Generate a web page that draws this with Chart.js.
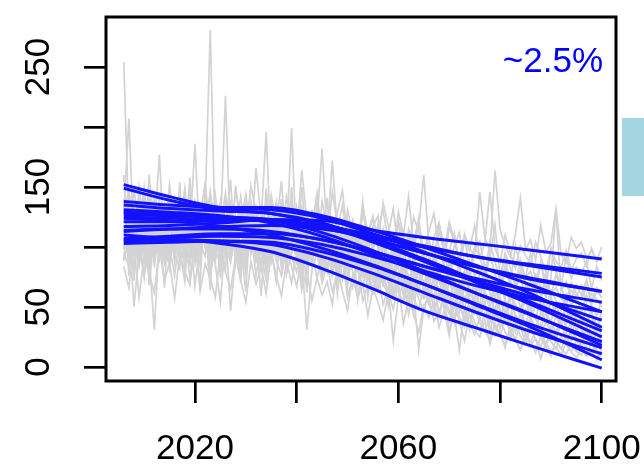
<!DOCTYPE html>
<html>
<head>
<meta charset="utf-8">
<script src="https://cdn.jsdelivr.net/npm/chart.js@4/dist/chart.umd.min.js"></script>
<style>
  html, body { margin:0; padding:0; background:#fff; }
  #wrap { width:644px; height:469px; }
</style>
</head>
<body>
<div id="wrap"><canvas id="sim" width="644" height="469"></canvas></div>
<script>
// years for the annual (gray) simulations
const years = [2006,2007,2008,2009,2010,2011,2012,2013,2014,2015,
  2016,2017,2018,2019,2020,2021,2022,2023,2024,2025,
  2026,2027,2028,2029,2030,2031,2032,2033,2034,2035,
  2036,2037,2038,2039,2040,2041,2042,2043,2044,2045,
  2046,2047,2048,2049,2050,2051,2052,2053,2054,2055,
  2056,2057,2058,2059,2060,2061,2062,2063,2064,2065,
  2066,2067,2068,2069,2070,2071,2072,2073,2074,2075,
  2076,2077,2078,2079,2080,2081,2082,2083,2084,2085,
  2086,2087,2088,2089,2090,2091,2092,2093,2094,2095,
  2096,2097,2098,2099,2100];

// gray: noisy simulated runs
const g01 = [254,118,96,132,104,141,88,115,127,99, 122,108,146,93,117,131,102,125,110,138, 97,120,113,142,105,128,91,119,134,108, 116,101,129,95,112,124,87,118,103,99, 121,92,106,88,114,97,83,109,91,78, 99,86,72,94,81,68,89,75,63,82, 70,58,77,64,53,71,59,48,66,55, 45,61,50,41,57,46,38,52,43,35, 49,40,32,45,37,29,42,34,27,39, 31,25,36,28,22];
const g02 = [128,207,101,88,119,136,95,124,108,147, 113,99,131,120,86,109,140,117,94,126, 105,133,98,121,144,110,92,127,115,103, 138,119,96,124,109,131,100,117,145,106, 123,98,114,135,102,119,93,128,111,97, 116,131,104,92,121,108,99,125,113,94, 107,88,119,102,96,112,85,104,97,118, 91,103,146,99,87,110,95,82,101,93, 86,104,92,79,98,88,83,97,81,90, 95,84,99,88,92];
const g03 = [112,96,131,84,107,123,92,139,101,86, 118,105,93,127,110,98,135,281,104,91, 122,99,113,87,129,106,95,118,83,110, 97,124,88,106,115,81,102,93,120,85, 98,76,104,89,71,93,82,67,88,74, 63,81,70,58,76,61,52,69,57,46, 64,51,42,58,47,38,53,41,34,49, 37,29,44,33,26,39,30,23,35,27, 20,31,24,17,28,21,15,25,18,13, 22,16,12,19,14];
const g04 = [104,121,97,113,88,126,108,95,131,116, 99,124,111,87,136,105,119,93,128,114, 226,101,118,90,124,107,133,98,115,102, 127,94,112,108,89,121,103,96,117,86, 109,99,81,113,95,104,87,76,98,90, 82,101,88,74,95,84,69,91,78,86, 72,93,79,66,85,71,62,80,68,75, 63,82,69,58,74,65,55,71,60,67, 53,70,59,49,64,56,47,61,52,58, 45,60,51,43,55];
const g05 = [96,83,118,102,74,125,91,108,87,119, 101,129,94,112,186,97,115,89,123,106, 92,117,101,126,85,110,98,121,196,94, 113,87,105,199,96,118,84,107,93,112, 79,101,90,73,97,85,106,80,92,71, 88,76,64,91,72,83,60,79,67,58, 84,69,55,73,62,50,71,57,65,52, 45,63,54,70,48,41,59,50,44,56, 39,52,46,36,55,43,38,49,33,45, 40,35,47,31,42];
const g06 = [118,92,106,130,99,84,113,177,95,121, 108,90,127,103,116,94,132,111,88,120, 104,135,97,114,92,125,107,119,86,101, 130,112,95,108,123,90,117,104,128,99, 112,96,121,107,93,118,101,89,110,124, 97,115,88,104,120,93,109,99,117,160, 102,90,113,96,121,105,88,111,99,93, 146,108,97,164,115,101,92,110,141,98, 106,89,118,96,103,132,94,87,108,99, 104,91,97,88,100];
const g07 = [98,112,85,104,79,93,31,108,88,117, 95,82,110,74,101,91,120,79,97,86, 113,47,92,103,78,115,87,96,72,105, 89,76,99,84,67,92,31,81,95,70, 86,63,78,91,58,74,82,55,69,61, 77,52,66,22,58,71,44,63,14,50, 59,38,47,55,31,43,14,49,36,27, 41,30,23,37,26,19,33,22,15,28, 18,24,7,20,13,17,10,21,12,8, 15,9,13,6,11];
const g08 = [135,109,147,121,98,138,115,129,104,152, 118,131,99,143,124,110,137,96,128,117, 145,103,126,114,139,108,121,133,97,125, 112,136,119,101,131,115,127,98,120,182, 109,172,114,96,123,105,117,92,111,100, 119,88,106,97,85,110,93,81,102,89, 95,78,99,84,73,92,80,70,88,76, 83,69,94,77,66,85,72,64,80,70, 61,77,67,58,74,132,63,71,57,68, 60,73,55,66,58];
const g09 = [102,116,50,97,124,88,111,93,106,82, 119,98,87,113,67,104,92,126,85,54, 108,96,117,81,99,112,76,103,94,88, 116,83,101,92,79,107,88,97,74,93, 82,104,71,89,78,66,93,75,84,62, 79,68,87,58,72,64,53,76,61,57, 69,48,62,55,44,60,51,39,57,46, 41,53,37,48,32,44,39,29,46,35, 40,31,27,38,33,24,36,28,22,31, 26,34,21,29,24];
const g10 = [90,104,79,115,96,83,107,122,88,101, 76,112,93,85,118,99,108,81,114,95, 103,87,121,97,84,110,92,105,80,116, 98,125,89,107,94,150,102,86,111,97, 104,90,81,99,112,87,95,78,101,89, 84,96,77,90,102,73,88,81,70,94, 79,87,72,66,91,76,84,68,80,63, 77,85,67,73,60,82,69,64,75,58, 71,62,55,78,60,66,57,52,64,59, 68,54,61,57,50];
const g11 = [140,95,128,113,150,102,137,121,98,133, 110,141,126,104,132,118,100,144,122,107, 135,115,98,127,141,109,124,103,119,136, 105,128,114,97,133,109,121,100,116,93, 126,106,98,118,88,110,95,86,104,80, 97,89,76,101,83,92,71,87,79,66, 91,74,84,63,79,70,57,75,64,54, 71,60,49,66,56,44,62,52,47,58, 49,41,55,45,38,51,42,36,47,40, 37,44,34,41,32];
const g12 = [120,137,99,110,129,92,117,103,134,96, 114,125,89,107,119,98,130,112,95,109, 121,90,106,114,97,126,101,88,112,104, 93,111,85,104,96,80,109,91,99,77, 95,86,103,73,89,80,68,92,76,64, 82,70,60,77,63,54,72,57,48,66, 52,44,61,49,38,55,42,33,50,37, 30,45,34,26,41,29,22,37,26,19, 32,23,17,28,21,15,26,18,13,22, 16,11,20,14,10];
const g13 = [88,145,72,126,98,160,83,117,66,139, 92,154,78,121,105,69,148,96,130,74, 118,156,86,102,63,137,111,80,149,97, 71,128,104,150,85,117,62,131,96,108, 141,79,115,92,66,124,88,103,58,97, 113,70,90,61,104,82,55,95,68,86, 60,99,73,52,88,66,47,79,58,71, 50,84,62,45,73,55,40,68,49,60, 43,65,51,37,58,46,34,55,41,50, 36,52,42,31,47];
const g14 = [160,76,123,95,141,68,112,90,134,79, 128,97,71,143,106,84,120,64,137,101, 82,126,109,70,131,94,115,59,121,88, 104,140,77,96,122,67,110,85,129,74, 99,118,61,93,82,107,56,88,72,95, 64,85,51,78,97,59,74,45,83,62, 53,76,42,66,57,37,70,48,31,61, 40,55,28,49,36,58,25,44,33,21, 42,29,36,18,33,26,39,20,30,24, 17,33,22,27,19];
const g15 = [110,131,96,150,118,87,142,105,125,93, 139,114,101,158,90,127,116,146,99,133, 120,94,151,112,137,101,166,124,89,143, 118,155,97,136,109,164,122,90,139,115, 104,146,120,88,131,111,99,138,94,117, 126,86,110,132,97,79,115,103,124,91, 84,108,120,95,77,101,112,86,72,98, 105,82,90,118,76,93,69,101,84,74, 95,71,88,63,99,80,67,92,74,83, 78,88,65,84,72];
const g16 = [84,66,101,58,93,77,62,99,71,88, 57,94,80,68,107,63,86,74,58,97, 79,65,92,72,54,88,69,83,61,95, 76,59,88,70,97,64,81,55,74,60, 71,52,84,63,47,76,58,69,43,66, 54,39,62,48,70,36,57,44,29,51, 41,55,33,47,26,52,38,22,44,31, 25,39,19,35,28,16,32,23,14,27, 21,12,26,17,9,23,15,11,19,13, 10,17,12,8,14];
const g17 = [99,123,108,86,131,114,95,138,102,120, 87,126,111,98,134,92,119,106,143,100, 112,129,93,118,104,136,97,125,110,88, 127,105,142,116,93,132,109,124,101,138, 115,94,129,147,108,121,99,134,112,126, 103,137,118,96,129,110,142,101,120,94, 113,128,99,86,117,104,91,109,81,100, 92,76,104,88,72,95,83,67,89,74, 80,64,86,71,59,77,66,55,70,61, 56,68,52,63,58];
const g18 = [127,148,115,139,104,156,122,134,110,145, 131,117,149,106,138,125,153,112,141,119, 136,108,147,124,113,151,129,102,140,118, 109,137,121,99,130,114,95,126,106,92, 119,101,87,112,96,83,105,90,78,99, 85,73,94,80,67,88,76,62,83,70, 58,77,64,53,71,60,49,66,55,45, 62,51,42,57,47,38,53,44,35,48, 40,33,45,37,30,42,34,28,38,31, 35,29,26,33,27];
const grayRuns = [g01,g02,g03,g04,g05,g06,g07,g08,g09,g10,g11,g12,g13,g14,g15,g16,g17,g18];

// blue: smooth fitted trajectories, read at these years
const blueYears = [2006,2015,2025,2035,2045,2055,2065,2075,2085,2100];
const b01 = [152,142,133,131,124,111,96,80,63,33];
const b02 = [149,139,131,128,119,104,88,71,54,25];
const b03 = [138,135,133,133,126,114,100,85,70,46];
const b04 = [135,132,130,128,120,106,90,73,56,30];
const b05 = [129,127,125,122,112,97,80,62,45,21];
const b06 = [125,124,123,122,116,106,95,84,75,63];
const b07 = [121,121,122,122,118,110,101,92,85,75];
const b08 = [117,118,120,123,122,114,108,103,98,90];
const b09 = [113,115,117,118,115,108,100,92,86,78];
const b10 = [107,109,111,111,106,96,84,74,65,54];
const b11 = [103,104,105,104,96,84,69,53,37,16];
const b12 = [124,122,117,110,99,85,69,52,35,6];
const b13 = [110,107,103,96,82,65,47,33,19,-1];
const b14 = [105,106,105,102,92,78,62,46,31,11];
const b15 = [131,129,126,120,109,94,78,62,46,18];
const b16 = [114,115,115,113,106,96,84,72,60,39];
const b17 = [106,108,109,108,102,92,80,68,58,46];
const b18 = [127,126,125,123,117,107,95,84,74,63];
const blueRuns = [b01,b02,b03,b04,b05,b06,b07,b08,b09,b10,b11,b12,b13,b14,b15,b16,b17,b18];

const xTicks = [2020,2040,2060,2080,2100];
const xLabels = ['2020','','2060','','2100'];
const yTicks = [0,50,100,150,200,250];
const yLabels = ['0','50','','150','','250'];
const note = '~2.5%';

const FONT = '"Liberation Sans", Arial, Helvetica, sans-serif';

const datasets = [];
blueRuns.forEach(r => datasets.push({
  data: blueYears.map((x, i) => ({x, y: r[i]})),
  borderColor:'#1212ff', borderWidth:3, pointRadius:0,
  cubicInterpolationMode:'monotone', fill:false
}));
grayRuns.forEach(r => datasets.push({
  data: r, borderColor:'#d3d3d3', borderWidth:1.7, pointRadius:0, tension:0, fill:false
}));

const frame = {
  id:'frame',
  afterDraw(chart){
    const {ctx, chartArea:a} = chart;
    ctx.save();
    ctx.strokeStyle = '#000'; ctx.lineWidth = 3;
    ctx.strokeRect(a.left, a.top, a.right - a.left, a.bottom - a.top);
    ctx.fillStyle = '#0000ff';
    ctx.font = '35px ' + FONT;
    ctx.textAlign = 'right'; ctx.textBaseline = 'alphabetic';
    ctx.fillText(note, a.right - 13, a.top + 55);
    // edge of the neighbouring panel
    ctx.fillStyle = '#a4d6e2';
    ctx.fillRect(622, 118, 22, 78);
    ctx.restore();
  }
};

new Chart(document.getElementById('sim'), {
  type:'line',
  data:{ labels: years, datasets },
  options:{
    responsive:false, animation:false, devicePixelRatio:1,
    layout:{ padding:{ top:17, right:28, left:0, bottom:0 } },
    plugins:{ legend:{display:false}, tooltip:{enabled:false} },
    scales:{
      x:{
        type:'linear', min:2002.5, max:2102.8,
        afterBuildTicks: s => { s.ticks = xTicks.map(v => ({value:v})); },
        afterFit: s => { s.height = 88; s.paddingLeft = 0; s.paddingRight = 0; },
        border:{ display:false },
        grid:{ drawOnChartArea:false, drawTicks:true, tickLength:22, tickColor:'#000', lineWidth:2.7 },
        ticks:{ autoSkip:false, maxRotation:0, minRotation:0, padding:25, color:'#000',
          font:{ family:FONT, size:35 },
          callback: v => xLabels[xTicks.indexOf(v)] ?? '' }
      },
      y:{
        type:'linear', min:-11.7, max:291.7,
        afterBuildTicks: s => { s.ticks = yTicks.map(v => ({value:v})); },
        afterFit: s => { s.width = 106; s.paddingTop = 0; s.paddingBottom = 0; },
        border:{ display:false },
        grid:{ drawOnChartArea:false, drawTicks:true, tickLength:22, tickColor:'#000', lineWidth:2.7 },
        ticks:{ autoSkip:false, minRotation:90, maxRotation:90, crossAlign:'center', padding:15, color:'#000',
          font:{ family:FONT, size:35 },
          callback: v => yLabels[yTicks.indexOf(v)] ?? '' }
      }
    }
  },
  plugins:[frame]
});
</script>
</body>
</html>
